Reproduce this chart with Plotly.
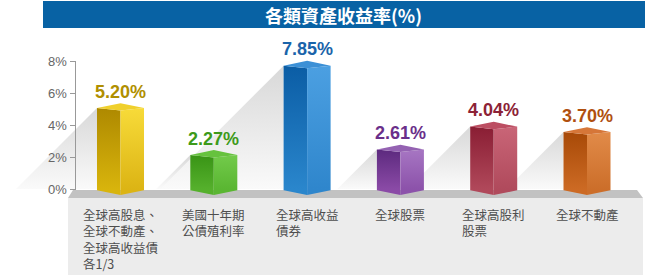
import plotly.graph_objects as go

# ---------------- data ----------------
categories = [
    "全球高股息、<br>全球不動產、<br>全球高收益債<br>各1/3",
    "美國十年期<br>公債殖利率",
    "全球高收益<br>債券",
    "全球股票",
    "全球高股利<br>股票",
    "全球不動產",
]
values = [5.20, 2.27, 7.85, 2.61, 4.04, 3.70]
y_tick_vals = [0, 2, 4, 6, 8]
y_tick_text = ["0%", "2%", "4%", "6%", "8%"]
title_text = "各類資產收益率(%)"

# ---------------- styles ----------------
label_colors = ["#b08f00", "#3d9a1a", "#1a64aa", "#6a2f8a", "#8c2236", "#b0500f"]
left_face = [("#d8b40c", "#ad8800"), ("#55b02c", "#379214"), ("#2a86cc", "#0a5ca4"),
             ("#8a4aa6", "#5a287c"), ("#b0485a", "#881c32"), ("#cc6a24", "#a64806")]
right_face = [("#dcb414", "#f8dc3a"), ("#5ab632", "#74cc4c"), ("#2f86cc", "#4ca0e2"),
              ("#8c52aa", "#a878c4"), ("#b04a5c", "#ca6678"), ("#cc6e2a", "#e28c4a")]
top_face = ["#f0d02c", "#66c23e", "#3c90d6", "#9462b2", "#bc4e62", "#d67638"]

W, H = 645, 275
PX_PER_X = 93.3
X0_PX = 120.5
Y0_PX = 189.0
PX_PER_Y = 16.0


def xd(px):
    return (px - X0_PX) / PX_PER_X


def yd(py):
    return (Y0_PX - py) / PX_PER_Y


HALF = 0.252
fig = go.Figure()

# shadows
for i, v in enumerate(values):
    L = i - HALF
    top = v - 0.14
    span = top * PX_PER_Y / PX_PER_X
    fig.add_trace(go.Scatter(
        x=[L, L - span, L, L], y=[top, 0, 0, top], mode="lines", fill="toself",
        line=dict(width=0, color="rgba(0,0,0,0)"),
        fillgradient=dict(type="vertical", colorscale=[[0, "#fafafa"], [1, "#d8d8d8"]],
                          start=0, stop=top),
        hoverinfo="skip", showlegend=False))

# bars (3D boxes)
for i, v in enumerate(values):
    C = i
    L, R = C - HALF, C + HALF
    side_top, back_top, front_top = v - 0.14, v + 0.16, v - 0.30
    side_bot, front_bot = -0.08, -0.38
    fig.add_trace(go.Scatter(
        x=[L, C, C, L, L], y=[side_bot, front_bot, front_top, side_top, side_bot],
        mode="lines", fill="toself", line=dict(width=0, color="rgba(0,0,0,0)"),
        fillgradient=dict(type="vertical", colorscale=[[0, left_face[i][0]], [1, left_face[i][1]]],
                          start=0, stop=v),
        hoverinfo="skip", showlegend=False))
    fig.add_trace(go.Scatter(
        x=[C, R, R, C, C], y=[front_bot, side_bot, side_top, front_top, front_bot],
        mode="lines", fill="toself", line=dict(width=0, color="rgba(0,0,0,0)"),
        fillgradient=dict(type="vertical", colorscale=[[0, right_face[i][0]], [1, right_face[i][1]]],
                          start=0, stop=v),
        hoverinfo="skip", showlegend=False))
    fig.add_trace(go.Scatter(
        x=[L, C, R, C, L], y=[side_top, back_top, side_top, front_top, side_top],
        mode="lines", fill="toself", line=dict(width=0, color="rgba(0,0,0,0)"),
        fillcolor=top_face[i], hoverinfo="skip", showlegend=False))

# value labels
for i, v in enumerate(values):
    fig.add_annotation(x=i, y=v, text=f"{v:.2f}%", showarrow=False, yanchor="middle", yshift=14,
                       font=dict(family="Liberation Sans, Arial", size=18, color=label_colors[i],
                                 weight="bold"))

# category labels
for i, c in enumerate(categories):
    fig.add_annotation(x=i, y=yd(203), text=c, showarrow=False, xanchor="center", yanchor="top",
                       align="left",
                       font=dict(family="Noto Sans CJK TC", size=12.5, color="#4e4e4e"))

# title
fig.add_annotation(xref="paper", yref="paper", x=343 / W, y=1 - 14.5 / H, text=title_text,
                   showarrow=False, xanchor="center", yanchor="middle",
                   font=dict(family="Noto Sans CJK TC", size=18, color="white", weight="bold"))

shapes = [
    dict(type="rect", xref="paper", yref="paper", x0=43 / W, x1=1, y0=1 - 28 / H, y1=1 - 1 / H,
         fillcolor="#0862a4", line=dict(width=0), layer="below"),
    dict(type="rect", xref="x", yref="y", x0=xd(68), x1=xd(643), y0=yd(198), y1=yd(H),
         fillcolor="#ececec", line=dict(width=0), layer="below"),
    dict(type="path", xref="x", yref="y",
         path=f"M {xd(73)},{yd(190)} L {xd(637)},{yd(190)} L {xd(643)},{yd(198)} L {xd(68)},{yd(198)} Z",
         fillcolor="#c2c2c2", line=dict(width=0), layer="below"),
    dict(type="line", xref="x", yref="y", x0=xd(75.5), x1=xd(75.5), y0=yd(190), y1=8,
         line=dict(color="#999999", width=1), layer="above"),
]

fig.update_layout(
    width=W, height=H, margin=dict(l=0, r=0, t=0, b=0),
    paper_bgcolor="white", plot_bgcolor="rgba(0,0,0,0)",
    showlegend=False, shapes=shapes,
    xaxis=dict(visible=False, range=[xd(0), xd(W)], domain=[0, 1], fixedrange=True),
    yaxis=dict(range=[yd(H), yd(0)], anchor="free", position=75.5 / W, tickvals=y_tick_vals,
               ticktext=y_tick_text, ticks="outside", ticklen=6, tickcolor="#999999",
               showgrid=False, zeroline=False, showline=False, fixedrange=True,
               tickfont=dict(family="Liberation Sans, Arial", size=13, color="#666666")),
)

fig.write_html("out.html")
